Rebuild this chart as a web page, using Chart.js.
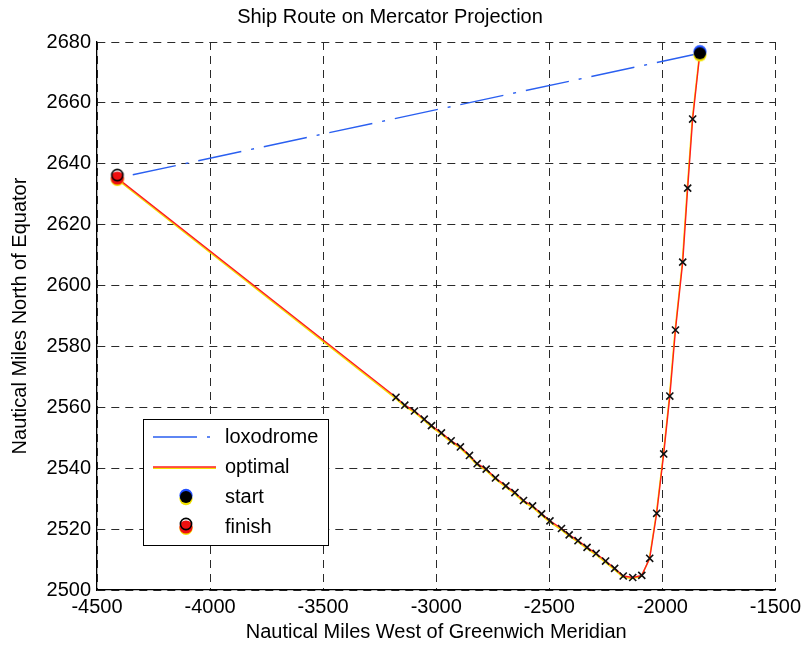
<!DOCTYPE html>
<html lang="en">
<head>
  <meta charset="UTF-8">
  <title>Ship Route on Mercator Projection</title>
  <script src="https://cdn.jsdelivr.net/npm/chart.js"></script>
  <style>
    body { margin: 0; background: #fff; }
    #wrap { width: 806px; height: 648px; }
  </style>
</head>
<body>
  <div id="wrap"><canvas id="chart" width="806" height="648"></canvas></div>

  <script>
    // route end points (nautical miles west / north)
    const startPos = [-1834, 2676.3];
    const finishPos = [-4410, 2635.3];

    // sampled positions along the optimal route (the "x" marks)
    const sampleX = [-3178, -3139, -3096, -3053, -3021, -2977, -2934, -2893, -2853, -2819,
                     -2779, -2738, -2692, -2652, -2614, -2574, -2534, -2497, -2446, -2412,
                     -2373, -2333, -2293, -2251, -2211, -2173, -2131, -2091, -2056, -2025,
                     -1994, -1967, -1942, -1910, -1888, -1866];
    const sampleY = [2563.3, 2560.7, 2558.8, 2556.1, 2554.0, 2551.6, 2549.0, 2547.0, 2544.2, 2541.5,
                     2539.7, 2536.8, 2534.2, 2532.0, 2529.4, 2527.6, 2525.0, 2522.7, 2520.2, 2518.1,
                     2516.2, 2514.0, 2512.0, 2509.5, 2507.1, 2504.6, 2504.1, 2504.8, 2510.4, 2525.2,
                     2544.7, 2563.7, 2585.4, 2607.7, 2632.0, 2654.7];

    const xTicks = [-4500, -4000, -3500, -3000, -2500, -2000, -1500];
    const yTicks = [2500, 2520, 2540, 2560, 2580, 2600, 2620, 2640, 2660, 2680];

    const seriesNames = ['loxodrome', 'optimal', 'start', 'finish'];

    const FONT = "'Liberation Sans', Arial, sans-serif";
    const BLUE = '#2a5ff0';
    const RED = '#ff1e1e';
    const YELLOW = '#f2e200';
    const LOXO_DASH = [44, 10, 3, 10];

    const pt = (x, y) => ({ x, y });
    const samples = sampleX.map((x, i) => pt(x, sampleY[i]));
    const optimalRoute = [pt(...finishPos), ...samples, pt(...startPos)];
    const loxodrome = [pt(...startPos), pt(...finishPos)];

    // printed look of the round markers: colour layers slightly out of register
    function makeDot(kind) {
      const c = document.createElement('canvas');
      c.width = c.height = 22;
      const g = c.getContext('2d');
      const disc = (cy, r, fill) => { g.beginPath(); g.arc(11, cy, r, 0, Math.PI * 2); g.fillStyle = fill; g.fill(); };
      if (kind === 'start') {
        disc(12.6, 6.6, YELLOW);
        disc(9.4, 6.6, '#1f4fff');
        disc(11, 6.0, '#000');
      } else {
        disc(12.4, 6.6, YELLOW);
        disc(11, 6.6, '#f01010');
        g.beginPath(); g.arc(11, 8, 5.6, 0, Math.PI * 2);
        g.lineWidth = 1.6; g.strokeStyle = '#000'; g.stroke();
      }
      return c;
    }
    const startDot = makeDot('start');
    const finishDot = makeDot('finish');

    // thin yellow fringe under the optimal route line
    const fringe = {
      id: 'fringe',
      beforeDatasetDraw(chart, args) {
        if (!chart.data.datasets[args.index].fringe) return;
        const ctx = chart.ctx;
        ctx.save();
        ctx.shadowColor = YELLOW;
        ctx.shadowOffsetX = -0.5;
        ctx.shadowOffsetY = 1.1;
        ctx.shadowBlur = 0;
      },
      afterDatasetDraw(chart, args) {
        if (chart.data.datasets[args.index].fringe) chart.ctx.restore();
      }
    };

    // boxed legend inside the plot, lower left
    const boxLegend = {
      id: 'boxLegend',
      afterDatasetsDraw(chart) {
        const ctx = chart.ctx;
        const L = 143, T = 419, W = 185, H = 126;
        ctx.save();
        ctx.fillStyle = '#fff';
        ctx.fillRect(L, T, W, H);
        ctx.strokeStyle = '#000';
        ctx.lineWidth = 1;
        ctx.strokeRect(L + 0.5, T + 0.5, W, H);

        const rowY = i => T + 18 + i * 30;
        // loxodrome sample
        ctx.beginPath();
        ctx.setLineDash(LOXO_DASH);
        ctx.strokeStyle = BLUE;
        ctx.lineWidth = 1.4;
        ctx.moveTo(153, rowY(0)); ctx.lineTo(216, rowY(0));
        ctx.stroke();
        ctx.setLineDash([]);
        // optimal sample
        ctx.lineWidth = 1.4;
        ctx.strokeStyle = YELLOW;
        ctx.beginPath(); ctx.moveTo(153, rowY(1) + 1.2); ctx.lineTo(216, rowY(1) + 1.2); ctx.stroke();
        ctx.strokeStyle = RED;
        ctx.beginPath(); ctx.moveTo(153, rowY(1)); ctx.lineTo(216, rowY(1)); ctx.stroke();
        // markers
        ctx.drawImage(startDot, 186 - 11, rowY(2) - 11);
        ctx.drawImage(finishDot, 186 - 11, rowY(3) - 11);

        ctx.fillStyle = '#000';
        ctx.font = '20px ' + FONT;
        ctx.textBaseline = 'middle';
        ctx.textAlign = 'left';
        seriesNames.forEach((name, i) => ctx.fillText(name, 225, rowY(i)));
        ctx.restore();
      }
    };

    const gridOpts = {
      color: '#2a2a2a',
      lineWidth: 1,
      drawTicks: false
    };
    const plainNumber = v => String(v);

    new Chart(document.getElementById('chart'), {
      type: 'scatter',
      data: {
        datasets: [
          {
            label: 'start',
            data: [pt(...startPos)],
            pointStyle: startDot,
            pointRadius: 7,
            order: 0
          },
          {
            label: 'finish',
            data: [pt(...finishPos)],
            pointStyle: finishDot,
            pointRadius: 7,
            order: 0
          },
          {
            label: 'samples',
            data: samples,
            pointStyle: 'crossRot',
            pointRadius: 5,
            borderWidth: 1.6,
            borderColor: '#111',
            showLine: false,
            order: 1
          },
          {
            label: 'loxodrome',
            data: loxodrome,
            showLine: true,
            borderColor: BLUE,
            borderWidth: 1.4,
            borderDash: LOXO_DASH,
            pointRadius: 0,
            order: 2
          },
          {
            label: 'optimal',
            data: optimalRoute,
            showLine: true,
            borderColor: RED,
            borderWidth: 1.4,
            pointRadius: 0,
            tension: 0,
            fringe: true,
            order: 3
          }
        ]
      },
      options: {
        responsive: false,
        animation: false,
        events: [],
        layout: { padding: { left: 0, right: 26, top: 0, bottom: 0 } },
        plugins: {
          legend: { display: false },
          tooltip: { enabled: false },
          title: {
            display: true,
            text: 'Ship Route on Mercator Projection',
            color: '#000',
            font: { family: FONT, size: 20, weight: 'normal' },
            padding: { top: 5, bottom: 13 }
          }
        },
        scales: {
          x: {
            type: 'linear',
            min: xTicks[0],
            max: xTicks[xTicks.length - 1],
            afterBuildTicks: s => { s.ticks = xTicks.map(v => ({ value: v })); },
            afterFit: s => { s.height = 58; },
            grid: gridOpts,
            border: { display: true, color: '#000', width: 1.3, dash: [8, 6] },
            ticks: { color: '#000', padding: 5, font: { family: FONT, size: 20 }, callback: plainNumber },
            title: {
              display: true,
              text: 'Nautical Miles West of Greenwich Meridian',
              color: '#000',
              font: { family: FONT, size: 20 },
              padding: { top: 0, bottom: 4 }
            }
          },
          y: {
            type: 'linear',
            min: yTicks[0],
            max: yTicks[yTicks.length - 1],
            afterBuildTicks: s => { s.ticks = yTicks.map(v => ({ value: v })); },
            afterFit: s => { s.width = 97; },
            grid: gridOpts,
            border: { display: true, color: '#000', width: 1.3, dash: [8, 6] },
            ticks: { color: '#000', padding: 6, font: { family: FONT, size: 20 }, callback: plainNumber },
            title: {
              display: true,
              text: 'Nautical Miles North of Equator',
              color: '#000',
              font: { family: FONT, size: 20 },
              padding: { top: 8 }
            }
          }
        }
      },
      plugins: [fringe, boxLegend]
    });
  </script>
</body>
</html>
